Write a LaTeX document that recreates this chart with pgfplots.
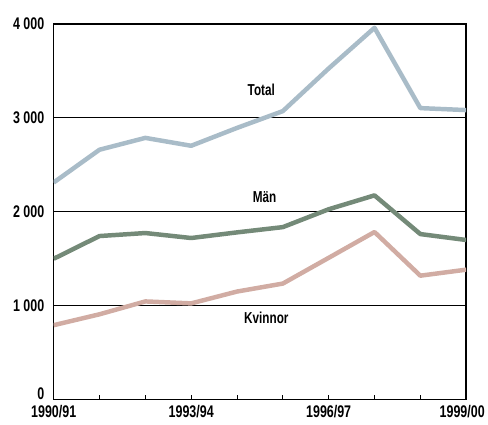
\documentclass[border=0pt]{standalone}
\usepackage{fontspec}
\setmainfont{Liberation Sans}[FakeStretch=0.74]
\usepackage{pgfplots}
\pgfplotsset{compat=1.18}
\definecolor{ctotal}{HTML}{A9BCC8}
\definecolor{cman}{HTML}{748A78}
\definecolor{ckv}{HTML}{D1ACA3}
\begin{document}
\begin{tikzpicture}
\path (-54bp,-25bp) rectangle (434bp,402bp);
\begin{axis}[
  at={(0,0)}, anchor=south west,
  scale only axis,
  width=415bp, height=378bp,
  xmin=0, xmax=9, ymin=0, ymax=4000,
  xtick={0,...,9},
  xticklabels={1990/91,,,1993/94,,,1996/97,,,\hspace*{-8bp}1999/00},
  ytick={1000,2000,3000,4000},
  extra y ticks={0},
  extra y tick style={yticklabel style={yshift=6bp}, grid=none},
  /pgf/number format/.cd, 1000 sep={\ }, assume math mode=true,
  /pgfplots/.cd,
  ymajorgrids, grid style={black, line width=1bp},
  xtick pos=bottom, xtick align=inside,
  major tick length=5bp,
  ytick style={draw=none},
  tick style={black, line width=1bp},
  axis line style={line width=1.5bp},
  ticklabel style={font=\fontsize{17}{19}\selectfont\bfseries},
  yticklabel style={xshift=-6bp},
  xticklabel style={yshift=-2bp},
  every axis plot/.append style={line width=4.5bp, line join=round},
]
\addplot[ctotal] coordinates {(0,2311) (1,2660) (2,2786) (3,2702) (4,2892) (5,3071) (6,3525) (7,3958) (8,3103) (9,3082)};
\addplot[cman] coordinates {(0,1499) (1,1741) (2,1773) (3,1720) (4,1780) (5,1836) (6,2026) (7,2174) (8,1762) (9,1699)};
\addplot[ckv] coordinates {(0,792) (1,908) (2,1045) (3,1024) (4,1150) (5,1235) (6,1509) (7,1784) (8,1319) (9,1383)};
\node[font=\fontsize{16}{18}\selectfont\bfseries] at (axis cs:4.53,3293) {Total};
\node[font=\fontsize{16}{18}\selectfont\bfseries] at (axis cs:4.6,2153) {Män};
\node[font=\fontsize{16}{18}\selectfont\bfseries] at (axis cs:4.64,865) {Kvinnor};
\end{axis}
\end{tikzpicture}
\end{document}
